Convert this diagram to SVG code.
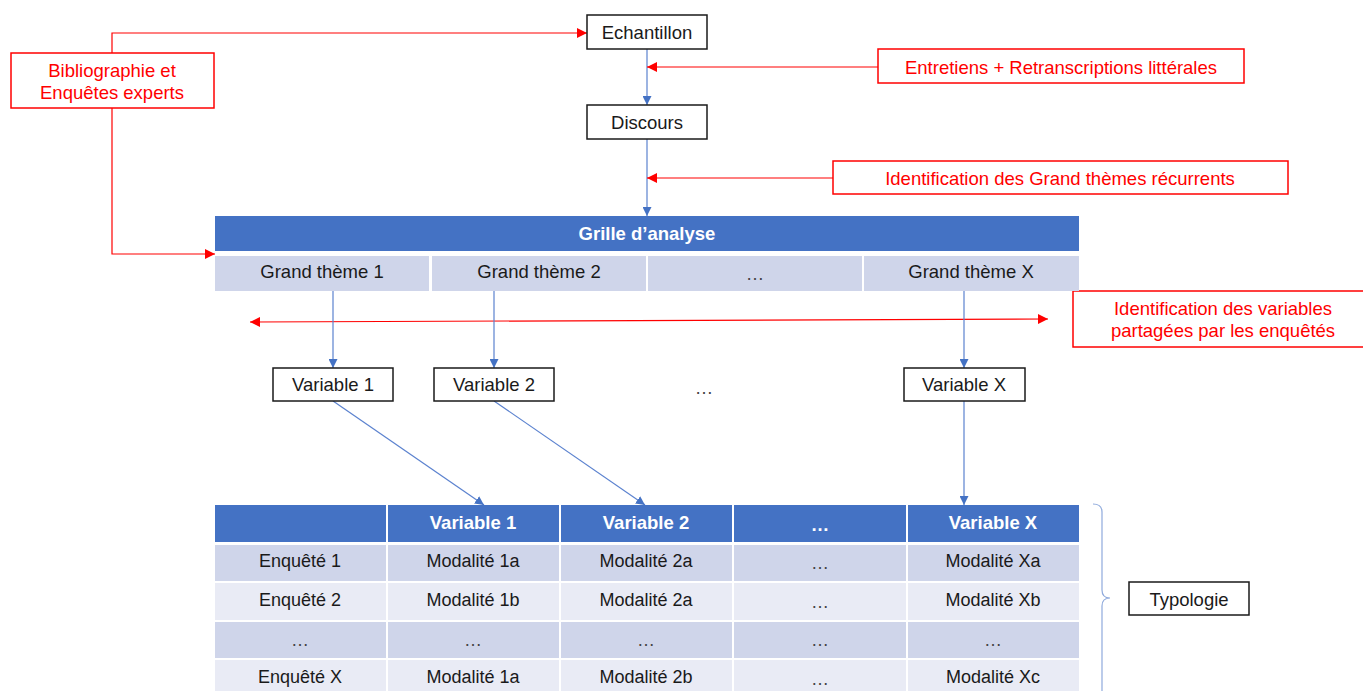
<svg xmlns="http://www.w3.org/2000/svg" width="1363" height="691" viewBox="0 0 1363 691">
<style>
text{font-family:"Liberation Sans",Arial,sans-serif;font-size:18.5px;text-anchor:middle;dominant-baseline:central;fill:#1a1a1a}
.t{font-size:18px}
.red{fill:#ff0000}
.wb{fill:#ffffff;font-weight:bold}
.box{fill:#ffffff;stroke:#1a1a1a;stroke-width:1.5}
.rbox{fill:#ffffff;stroke:#ff0000;stroke-width:1.5}
.hdr{fill:#4472c4}
.c1{fill:#cfd5ea}
.c2{fill:#e9ebf5}
.bl{stroke:#5b82cf;stroke-width:1.2;fill:none}
.rl{stroke:#ff0000;stroke-width:1.2;fill:none}
.dots{fill:#444}
</style>
<defs>
<marker id="ab" viewBox="0 0 10 10" refX="10" refY="5" markerWidth="9" markerHeight="9" markerUnits="userSpaceOnUse" orient="auto-start-reverse"><path d="M0,0 L10,5 L0,10 z" fill="#4472c4"/></marker>
<marker id="ar" viewBox="0 0 10 10" refX="10" refY="5" markerWidth="10" markerHeight="10" markerUnits="userSpaceOnUse" orient="auto-start-reverse"><path d="M0,0 L10,5 L0,10 z" fill="#ff0000"/></marker>
</defs>
<g id="connectors">
<line class="bl" x1="647" y1="49" x2="647" y2="105" marker-end="url(#ab)"/>
<line class="bl" x1="647" y1="139" x2="647" y2="216" marker-end="url(#ab)"/>
<line class="rl" x1="878" y1="67" x2="647" y2="67" marker-end="url(#ar)"/>
<line class="rl" x1="833" y1="178" x2="647" y2="178" marker-end="url(#ar)"/>
<polyline class="rl" points="112,53 112,33 587,33" marker-end="url(#ar)"/>
<polyline class="rl" points="112,108 112,254 215,254" marker-end="url(#ar)"/>
<line class="rl" x1="250" y1="322" x2="1048" y2="319" marker-start="url(#ar)" marker-end="url(#ar)"/>
<line class="bl" x1="333" y1="291" x2="333" y2="368" marker-end="url(#ab)"/>
<line class="bl" x1="494" y1="291" x2="494" y2="368" marker-end="url(#ab)"/>
<line class="bl" x1="964" y1="291" x2="964" y2="368" marker-end="url(#ab)"/>
<line class="bl" x1="333" y1="401" x2="484" y2="505" marker-end="url(#ab)"/>
<line class="bl" x1="494" y1="401" x2="645" y2="505" marker-end="url(#ab)"/>
<line class="bl" x1="964" y1="401" x2="964" y2="505" marker-end="url(#ab)"/>
<path d="M1093,504 Q1102,504 1102,512 L1102,590 Q1102,598 1110,598 Q1102,598 1102,606 L1102,691" fill="none" stroke="#8faadc" stroke-width="1.2"/>
</g>
<g id="echantillon"><rect class="box" x="587" y="15" width="120" height="34"/><text x="647" y="32">Echantillon</text></g>
<g id="discours"><rect class="box" x="587" y="105" width="120" height="34"/><text x="647" y="122">Discours</text></g>
<g id="entretiens"><rect class="rbox" x="878" y="49" width="366" height="34"/><text class="red" x="1061" y="67">Entretiens + Retranscriptions littérales</text></g>
<g id="identification-themes"><rect class="rbox" x="833" y="161" width="455" height="33"/><text class="red" x="1060" y="178">Identification des Grand thèmes récurrents</text></g>
<g id="bibliographie"><rect class="rbox" x="11" y="53" width="203" height="55"/><text class="red" x="112" y="70">Bibliographie et</text><text class="red" x="112" y="92">Enquêtes experts</text></g>
<g id="identification-variables"><rect class="rbox" x="1073" y="291" width="295" height="56"/><text class="red" x="1223" y="308">Identification des variables</text><text class="red" x="1223" y="330">partagées par les enquêtés</text></g>
<g id="grille">
<rect class="hdr" x="215" y="216" width="864" height="35"/>
<text class="wb" x="647" y="233">Grille d’analyse</text>
<rect class="c1" x="215" y="256" width="214" height="35"/>
<rect class="c1" x="432" y="256" width="214" height="35"/>
<rect class="c1" x="648" y="256" width="214" height="35"/>
<rect class="c1" x="864" y="256" width="215" height="35"/>
<text x="322" y="271">Grand thème 1</text>
<text x="539" y="271">Grand thème 2</text>
<text class="dots" x="755" y="273">…</text>
<text x="971" y="271">Grand thème X</text>
</g>
<g id="variable1"><rect class="box" x="273" y="368" width="120" height="33"/><text x="333" y="384">Variable 1</text></g>
<g id="variable2"><rect class="box" x="434" y="368" width="120" height="33"/><text x="494" y="384">Variable 2</text></g>
<text class="dots" x="704" y="387">…</text>
<g id="variableX"><rect class="box" x="904" y="368" width="121" height="33"/><text x="964" y="384">Variable X</text></g>
<g id="typologie-table">
<rect class="hdr" x="215" y="505" width="171" height="37"/>
<rect class="hdr" x="388" y="505" width="171" height="37"/>
<rect class="hdr" x="561" y="505" width="171" height="37"/>
<rect class="hdr" x="734" y="505" width="172" height="37"/>
<rect class="hdr" x="908" y="505" width="171" height="37"/>
<text class="wb" x="473" y="522">Variable 1</text>
<text class="wb" x="646" y="522">Variable 2</text>
<text class="wb" x="820" y="524">…</text>
<text class="wb" x="993" y="522">Variable X</text>
<g class="c1">
<rect x="215" y="545" width="171" height="36"/><rect x="388" y="545" width="171" height="36"/><rect x="561" y="545" width="171" height="36"/><rect x="734" y="545" width="172" height="36"/><rect x="908" y="545" width="171" height="36"/>
<rect x="215" y="622" width="171" height="36"/><rect x="388" y="622" width="171" height="36"/><rect x="561" y="622" width="171" height="36"/><rect x="734" y="622" width="172" height="36"/><rect x="908" y="622" width="171" height="36"/>
</g>
<g class="c2">
<rect x="215" y="583" width="171" height="37"/><rect x="388" y="583" width="171" height="37"/><rect x="561" y="583" width="171" height="37"/><rect x="734" y="583" width="172" height="37"/><rect x="908" y="583" width="171" height="37"/>
<rect x="215" y="660" width="171" height="36"/><rect x="388" y="660" width="171" height="36"/><rect x="561" y="660" width="171" height="36"/><rect x="734" y="660" width="172" height="36"/><rect x="908" y="660" width="171" height="36"/>
</g>
<text class="t" x="300" y="561">Enquêté 1</text><text class="t" x="473" y="561">Modalité 1a</text><text class="t" x="646" y="561">Modalité 2a</text><text class="dots t" x="820" y="563">…</text><text class="t" x="993" y="561">Modalité Xa</text>
<text class="t" x="300" y="600">Enquêté 2</text><text class="t" x="473" y="600">Modalité 1b</text><text class="t" x="646" y="600">Modalité 2a</text><text class="dots t" x="820" y="602">…</text><text class="t" x="993" y="600">Modalité Xb</text>
<text class="dots t" x="300" y="640">…</text><text class="dots t" x="473" y="640">…</text><text class="dots t" x="646" y="640">…</text><text class="dots t" x="820" y="640">…</text><text class="dots t" x="993" y="640">…</text>
<text class="t" x="300" y="677">Enquêté X</text><text class="t" x="473" y="677">Modalité 1a</text><text class="t" x="646" y="677">Modalité 2b</text><text class="dots t" x="820" y="679">…</text><text class="t" x="993" y="677">Modalité Xc</text>
</g>
<g id="typologie"><rect class="box" x="1129" y="582" width="120" height="33"/><text x="1189" y="599">Typologie</text></g>
</svg>
